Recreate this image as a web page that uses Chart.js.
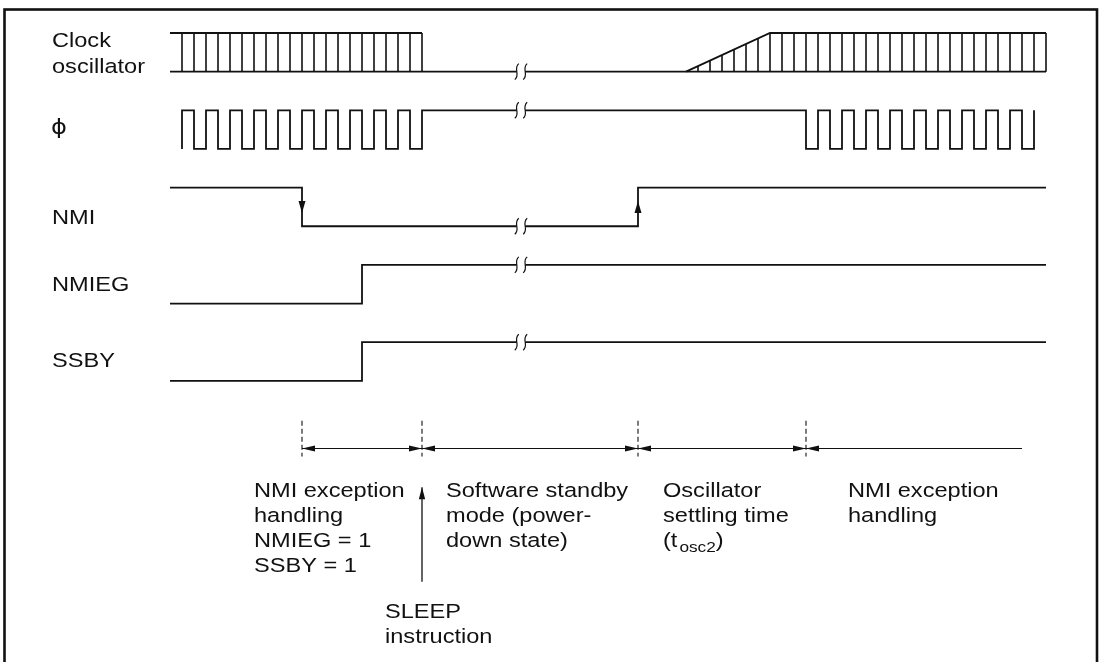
<!DOCTYPE html>
<html>
<head>
<meta charset="utf-8">
<script src="https://cdn.jsdelivr.net/npm/chart.js@4.4.0/dist/chart.umd.min.js"></script>
<style>
    html, body { margin: 0; padding: 0; background: #fff; }
    #wrap { width: 1100px; height: 662px; }
</style>
</head>
<body>
<div id="wrap"><canvas id="timing" width="1100" height="662"></canvas></div>
<script>
(function (window, document) {
    'use strict';

    // time axis in oscillator periods, lanes: 0 clock, 1 phi, 2 NMI, 3 NMIEG, 4 SSBY
    var signalNames = ['Clock oscillator', 'ϕ', 'NMI', 'NMIEG', 'SSBY'];
    var traceStart = -1;
    var traceEnd = 72;
    var breakFrom = 27.9;
    var breakTo = 28.6;

    var oscTicksLeft = [0, 1, 2, 3, 4, 5, 6, 7, 8, 9, 10, 11, 12, 13, 14, 15, 16, 17, 18, 19, 20];
    var oscStop = 20;
    var oscRamp = [42, 49];
    var oscTicksRight = [43, 44, 45, 46, 47, 48, 49, 50, 51, 52, 53, 54, 55, 56, 57, 58, 59, 60,
        61, 62, 63, 64, 65, 66, 67, 68, 69, 70, 71, 72];

    var phiStart = 0;
    var phiEnd = 71;
    var phiEdges = [0, 1, 2, 3, 4, 5, 6, 7, 8, 9, 10, 11, 12, 13, 14, 15, 16, 17, 18, 19, 20,
        52, 53, 54, 55, 56, 57, 58, 59, 60, 61, 62, 63, 64, 65, 66, 67, 68, 69, 70, 71];
    var nmiEdges = [10, 38];
    var nmiegEdges = [15];
    var ssbyEdges = [15];

    var phaseMarks = [10, 20, 38, 52];
    var phaseEnd = 70;
    var sleepAt = 20;

    var INK = '#111';

    function buildTrace(lane, from, to, startHigh, edges) {
        var lvl = startHigh ? 0 : 1;
        var pts = [];
        var broke = false;
        function y() { return lane * 2 + lvl; }
        function cut(t) {
            if (!broke && t > breakFrom && from < breakFrom) {
                pts.push({ x: breakFrom, y: y() }, { x: breakFrom, y: null }, { x: breakTo, y: y() });
                pts.breakY = y();
                broke = true;
            }
        }
        pts.push({ x: from, y: y() });
        edges.forEach(function (t) {
            cut(t);
            pts.push({ x: t, y: y() });
            lvl = 1 - lvl;
            pts.push({ x: t, y: y() });
        });
        cut(to);
        pts.push({ x: to, y: y() });
        return pts;
    }

    function oscTop(t) {
        if (t >= oscRamp[0] && t < oscRamp[1]) {
            return 1 - (t - oscRamp[0]) / (oscRamp[1] - oscRamp[0]);
        }
        return 0;
    }

    var oscBase = buildTrace(0, traceStart, traceEnd, false, []);
    var oscEnvelope = [
        { x: traceStart, y: 0 }, { x: oscStop, y: 0 }, { x: oscStop, y: null },
        { x: oscRamp[0], y: 1 }, { x: oscRamp[1], y: 0 }, { x: traceEnd, y: 0 }
    ];
    var oscTicks = [];
    oscTicksLeft.concat(oscTicksRight).forEach(function (t) {
        oscTicks.push({ x: t, y: 1 }, { x: t, y: oscTop(t) }, { x: t, y: null });
    });

    var phiTrace = buildTrace(1, phiStart, phiEnd, false, phiEdges);
    var nmiTrace = buildTrace(2, traceStart, traceEnd, true, nmiEdges);
    var nmiegTrace = buildTrace(3, traceStart, traceEnd, false, nmiegEdges);
    var ssbyTrace = buildTrace(4, traceStart, traceEnd, false, ssbyEdges);
    var breakTraces = [oscBase, phiTrace, nmiTrace, nmiegTrace, ssbyTrace];

    var DIM_Y = 10.75;
    var markTicks = [];
    phaseMarks.forEach(function (t) {
        markTicks.push({ x: t, y: 10.03 }, { x: t, y: 10.96 }, { x: t, y: null });
    });

    function sig(data, width, extra) {
        return Object.assign({
            data: data, showLine: true, borderColor: INK, borderWidth: width || 1.8,
            pointRadius: 0, spanGaps: false, fill: false, tension: 0
        }, extra || {});
    }

    var datasets = [
        sig(oscBase), sig(oscEnvelope), sig(oscTicks, 1.6),
        sig(phiTrace), sig(nmiTrace), sig(nmiegTrace), sig(ssbyTrace),
        sig([{ x: phaseMarks[0], y: DIM_Y }, { x: phaseEnd, y: DIM_Y }], 1.1),
        sig(markTicks, 1.1, { borderDash: [5, 3] }),
        sig([{ x: sleepAt, y: 14.2 }, { x: sleepAt, y: 11.75 }], 1.3)
    ];

    // lettering in the source is slightly wide
    var FONT = '20.5px "Liberation Sans", Arial, Helvetica, sans-serif';
    var SUB_FONT = '15px "Liberation Sans", Arial, Helvetica, sans-serif';
    var PHI_FONT = '21px "DejaVu Sans", sans-serif';
    var WIDE = 1.15;

    function text(ctx, str, x, y, font) {
        ctx.save();
        ctx.font = font || FONT;
        ctx.translate(x, y);
        ctx.scale(WIDE, 1);
        ctx.fillText(str, 0, 0);
        var w = ctx.measureText(str).width * WIDE;
        ctx.restore();
        return w;
    }

    function head(ctx, x, y, dx, dy, len, half) {
        ctx.beginPath();
        ctx.moveTo(x, y);
        ctx.lineTo(x - dx * len - dy * half, y - dy * len + dx * half);
        ctx.lineTo(x - dx * len + dy * half, y - dy * len - dx * half);
        ctx.closePath();
        ctx.fill();
    }

    var decorations = {
        id: 'decorations',
        afterDraw: function (chart) {
            var ctx = chart.ctx;
            var sx = chart.scales.x, sy = chart.scales.y;
            var px = function (t) { return sx.getPixelForValue(t); };
            var py = function (v) { return sy.getPixelForValue(v); };

            ctx.save();
            ctx.fillStyle = INK;
            ctx.strokeStyle = INK;

            // frame
            ctx.lineWidth = 2.6;
            ctx.strokeRect(4.5, 9.5, 1092.5, 700);

            // break marks
            ctx.lineWidth = 1.2;
            breakTraces.forEach(function (tr) {
                [breakFrom, breakTo].forEach(function (t) {
                    var x = px(t), y = py(tr.breakY);
                    ctx.beginPath();
                    ctx.moveTo(x + 2, y - 8);
                    ctx.bezierCurveTo(x - 4, y - 3, x + 4, y + 3, x - 2, y + 8);
                    ctx.stroke();
                });
            });

            // NMI edge arrows
            var nmiMid = (py(4) + py(5)) / 2;
            head(ctx, px(nmiEdges[0]), nmiMid + 6, 0, 1, 12, 3.5);
            head(ctx, px(nmiEdges[1]), nmiMid - 6, 0, -1, 12, 3.5);

            // phase dimension arrows
            var dy = py(DIM_Y);
            phaseMarks.forEach(function (t, i) {
                head(ctx, px(t), dy, -1, 0, 13, 3);
                if (i > 0) { head(ctx, px(t), dy, 1, 0, 13, 3); }
            });

            // SLEEP arrow
            head(ctx, px(sleepAt), py(11.75), 0, -1, 12, 3.2);

            // labels
            ctx.textBaseline = 'alphabetic';
            text(ctx, 'Clock', 52, 47);
            text(ctx, 'oscillator', 52, 73);
            text(ctx, signalNames[1], 51, 134, PHI_FONT);
            text(ctx, signalNames[2], 52, 224);
            text(ctx, signalNames[3], 52, 291);
            text(ctx, signalNames[4], 52, 367);

            text(ctx, 'NMI exception', 254, 497);
            text(ctx, 'handling', 254, 522);
            text(ctx, 'NMIEG = 1', 254, 547);
            text(ctx, 'SSBY = 1', 254, 572);

            text(ctx, 'SLEEP', 385, 618);
            text(ctx, 'instruction', 385, 643);

            text(ctx, 'Software standby', 446, 497);
            text(ctx, 'mode (power-', 446, 522);
            text(ctx, 'down state)', 446, 547);

            text(ctx, 'Oscillator', 663, 497);
            text(ctx, 'settling time', 663, 522);
            var w = text(ctx, '(t', 663, 547);
            w += 2;
            w += text(ctx, 'osc2', 663 + w, 552, SUB_FONT);
            text(ctx, ')', 663 + w, 547);

            text(ctx, 'NMI exception', 848, 497);
            text(ctx, 'handling', 848, 522);

            ctx.restore();
        }
    };

    new Chart(document.getElementById('timing'), {
        type: 'scatter',
        data: { datasets: datasets },
        options: {
            responsive: false,
            animation: false,
            devicePixelRatio: 1,
            layout: { padding: 0 },
            plugins: { legend: { display: false }, tooltip: { enabled: false }, title: { display: false } },
            events: [],
            scales: {
                x: { type: 'linear', display: false, min: -182 / 12, max: (1100 - 182) / 12 },
                y: { type: 'linear', display: false, reverse: true, min: -33 / 38.65, max: (662 - 33) / 38.65 }
            }
        },
        plugins: [decorations]
    });
})(window, document);
</script>
</body>
</html>
